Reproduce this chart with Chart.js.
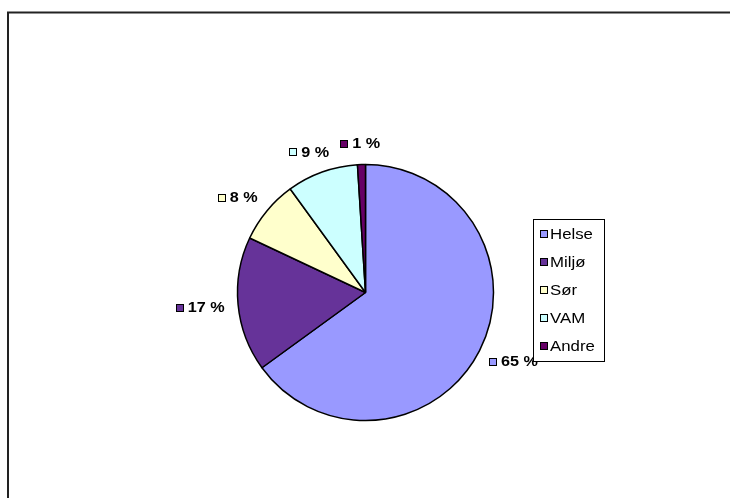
<!DOCTYPE html>
<html>
<head>
<meta charset="utf-8">
<script src="https://cdn.jsdelivr.net/npm/chart.js@4.4.0/dist/chart.umd.min.js"></script>
<style>
  html, body { margin: 0; padding: 0; background: #fff; }
  #wrap { position: relative; width: 730px; height: 498px; }
</style>
</head>
<body>
<div id="wrap"><canvas id="pieFordeling" width="730" height="498"></canvas></div>
<script>
// PIE FORDELING

var kategorier = ["Helse", "Miljø", "Sør", "VAM", "Andre"];
var andeler = [65, 17, 8, 9, 1];
var farger = ["#9999FF", "#663399", "#FFFFCC", "#CCFFFF", "#660066"];

var FONT = 'Arial, "Liberation Sans", sans-serif';

// frame lines (top and left only, like the source)
var rammePlugin = {
  id: "ramme",
  beforeDraw: function (chart) {
    var ctx = chart.ctx;
    ctx.save();
    ctx.fillStyle = "#fff";
    ctx.fillRect(0, 0, chart.width, chart.height);
    ctx.strokeStyle = "#222";
    ctx.lineWidth = 2;
    ctx.beginPath();
    ctx.moveTo(8, 498);
    ctx.lineTo(8, 12.5);
    ctx.lineTo(730, 12.5);
    ctx.stroke();
    ctx.restore();
  }
};

function boks(ctx, x, y, s, farge) {
  ctx.fillStyle = farge;
  ctx.fillRect(x, y, s, s);
  ctx.strokeStyle = "#000";
  ctx.lineWidth = 1;
  ctx.strokeRect(x + 0.5, y + 0.5, s - 1, s - 1);
}

function strekkTekst(ctx, tekst, x, y, sx) {
  ctx.save();
  ctx.translate(x, y);
  ctx.scale(sx, 1);
  ctx.fillText(tekst, 0, 0);
  ctx.restore();
}

// percent labels outside each slice, on an ellipse round the pie
var etikettPlugin = {
  id: "etiketter",
  afterDatasetsDraw: function (chart) {
    var ctx = chart.ctx;
    var meta = chart.getDatasetMeta(0);
    var data = chart.data.datasets[0].data;
    var sum = data.reduce(function (a, b) { return a + b; }, 0);
    var sx = 1.08;
    ctx.save();
    ctx.font = "bold 15px " + FONT;
    ctx.textBaseline = "middle";
    ctx.textAlign = "left";
    meta.data.forEach(function (arc, i) {
      var tekst = Math.round(data[i] / sum * 100) + " %";
      var tw = ctx.measureText(tekst).width * sx;
      var s = 8, gap = 4;
      var w = s + gap + tw;
      var mid = (arc.startAngle + arc.endAngle) / 2;
      var cx = arc.x + Math.cos(mid) * (arc.outerRadius + 38);
      var cy = arc.y + Math.sin(mid) * (arc.outerRadius + 22);
      var x0 = cx - w / 2;
      boks(ctx, Math.round(x0), Math.round(cy - s / 2 + 1), s, chart.data.datasets[0].backgroundColor[i]);
      ctx.fillStyle = "#000";
      strekkTekst(ctx, tekst, x0 + s + gap, cy + 1, sx);
    });
    ctx.restore();
  }
};

// legend box on the right
var legendePlugin = {
  id: "legende",
  afterDraw: function (chart) {
    var ctx = chart.ctx;
    var x = 533, y = 219, w = 71, h = 142;
    ctx.save();
    ctx.fillStyle = "#fff";
    ctx.fillRect(x, y, w, h);
    ctx.strokeStyle = "#000";
    ctx.lineWidth = 1;
    ctx.strokeRect(x + 0.5, y + 0.5, w, h);
    ctx.font = "15px " + FONT;
    ctx.textBaseline = "middle";
    chart.data.labels.forEach(function (navn, i) {
      var ly = 234 + i * 28;
      boks(ctx, 540, ly - 4, 8, chart.data.datasets[0].backgroundColor[i]);
      ctx.fillStyle = "#000";
      strekkTekst(ctx, navn, 550, ly + 1, 1.12);
    });
    ctx.restore();
  }
};

new Chart("pieFordeling", {
  type: "pie",
  data: {
    labels: kategorier,
    datasets: [
      {
        backgroundColor: farger,
        borderColor: "#000",
        borderWidth: 1.5,
        data: andeler,
      },
    ],
  },
  options: {
    responsive: false,
    animation: false,
    radius: 128,
    layout: { padding: { left: 100, right: 99, top: 150, bottom: 63 } },
    plugins: {
      legend: { display: false },
      tooltip: { enabled: false },
    },
  },
  plugins: [rammePlugin, etikettPlugin, legendePlugin],
});
</script>
</body>
</html>
